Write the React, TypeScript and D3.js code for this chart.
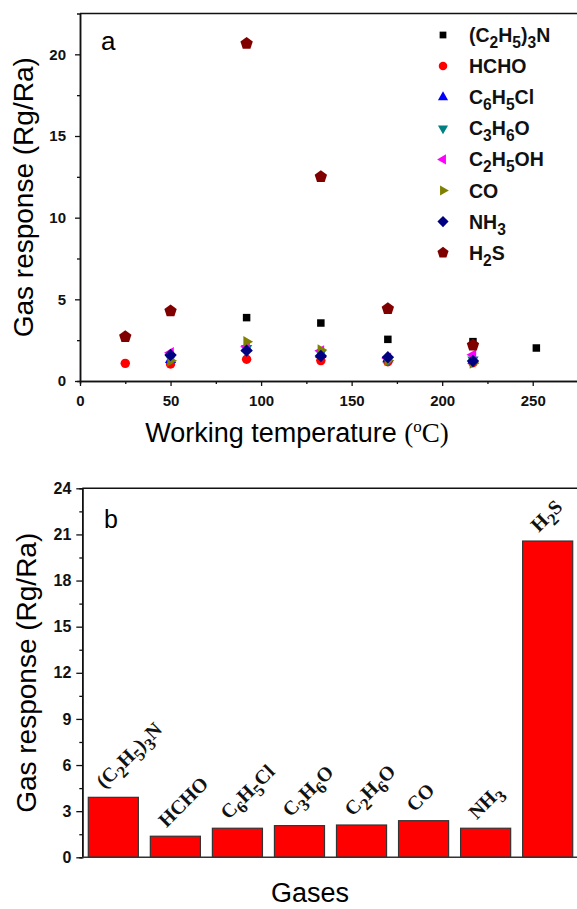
import React from "react";
import * as d3 from "d3";

// panel a: gas response vs working temperature
const temps = [25, 50, 92, 133, 170, 217, 252];
const seriesNames = ["(C2H5)3N", "HCHO", "C6H5Cl", "C3H6O", "C2H5OH", "CO", "NH3", "H2S"];
const teaResp = [null, null, 3.88, 3.55, 2.55, 2.41, 2.02];
const hchoResp = [1.08, 1.04, 1.33, 1.25, 1.18, 1.12, null];
const c6h5clResp = [null, 1.3, 2.0, 1.6, 1.35, 1.25, null];
const c3h6oResp = [null, 1.4, 2.0, 1.7, 1.3, 1.3, null];
const c2h5ohResp = [null, 1.73, 2.1, 1.85, 1.4, 1.6, null];
const coResp = [null, 1.24, 2.41, 1.9, 1.25, 1.1, null];
const nh3Resp = [null, 1.59, 1.86, 1.53, 1.45, 1.22, null];
const h2sResp = [2.71, 4.29, 20.66, 12.51, 4.43, 2.19, null];
const seriesValues = [teaResp, hchoResp, c6h5clResp, c3h6oResp, c2h5ohResp, coResp, nh3Resp, h2sResp];
const seriesColors = ["#000000", "#ff0000", "#0000ff", "#008080", "#ff00ff", "#808000", "#000080", "#800000"];
const seriesShapes = ["square", "circle", "up", "down", "left", "right", "diamond", "pentagon"];

const tempTicks = [0, 50, 100, 150, 200, 250];
const tempMinor = [25, 75, 125, 175, 225, 275];
const respTicksA = [0, 5, 10, 15, 20];
const respMinorA = [2.5, 7.5, 12.5, 17.5];

// panel b: response to each gas
const gases = ["(C2H5)3N", "HCHO", "C6H5Cl", "C3H6O", "C2H6O", "CO", "NH3", "H2S"];
const gasResp = [3.9, 1.37, 1.89, 2.06, 2.1, 2.38, 1.89, 20.57];
const respTicksB = [0, 3, 6, 9, 12, 15, 18, 21, 24];
const respMinorB = [1.5, 4.5, 7.5, 10.5, 13.5, 16.5, 19.5, 22.5];

const SANS = "Arial, 'Liberation Sans', sans-serif";
const SERIF = "'Times New Roman', 'Liberation Serif', serif";

function markerPath(shape: string) {
  const poly = (n: number, r: number, rot: number) =>
    d3.line()(
      d3.range(n).map((i) => {
        const a = rot + (i * 2 * Math.PI) / n;
        return [r * Math.cos(a), r * Math.sin(a)] as [number, number];
      })
    ) + "Z";
  switch (shape) {
    case "square":
      return poly(4, 5.3, Math.PI / 4);
    case "circle":
      return d3.symbol(d3.symbolCircle, 70)();
    case "up":
      return poly(3, 6.5, -Math.PI / 2);
    case "down":
      return poly(3, 6.5, Math.PI / 2);
    case "left":
      return poly(3, 6.5, Math.PI);
    case "right":
      return poly(3, 6.5, 0);
    case "diamond":
      return poly(4, 6.2, -Math.PI / 2);
    default:
      return poly(5, 6.5, -Math.PI / 2);
  }
}

// write a chemical formula, digits as subscripts
function formula(text, label: string, size: number, subScale: number, shift: number) {
  const parts = label.split(/(\d+)/).filter((p) => p.length);
  let down = false;
  parts.forEach((p) => {
    const isSub = /^\d+$/.test(p);
    const t = text.append("tspan").text(p);
    if (isSub) {
      t.attr("font-size", size * subScale).attr("dy", down ? 0 : shift);
      down = true;
    } else {
      t.attr("font-size", size).attr("dy", down ? -shift : 0);
      down = false;
    }
  });
}

const App = () => {
  const ref = React.useRef(null);

  React.useEffect(() => {
    const svg = d3.select(ref.current);
    svg.selectAll("*").remove();

    // ---------- panel a ----------
    const x = d3.scaleLinear().domain([0, 275]).range([80, 578]);
    const y = d3.scaleLinear().domain([0, 22.5]).range([381, 13.5]);

    const ga = svg.append("g");

    ga.append("line")
      .attr("x1", x(0)).attr("x2", x(275))
      .attr("y1", y(22.5)).attr("y2", y(22.5))
      .attr("stroke", "#111").attr("stroke-width", 1.5);

    const styleAxis = (g) => {
      g.attr("font-family", null).attr("font-size", null);
      g.select(".domain").attr("stroke", "#111").attr("stroke-width", 1.5);
      g.selectAll(".tick line").attr("stroke", "#111").attr("stroke-width", 1.3);
      g.selectAll("text")
        .style("font-family", SANS)
        .style("font-weight", "bold")
        .style("font-size", "15px")
        .attr("fill", "#111");
    };

    ga.append("g")
      .attr("transform", `translate(0,${y(0)})`)
      .call(d3.axisBottom(x).tickValues(tempMinor).tickSize(3).tickFormat(() => ""))
      .call(styleAxis);
    ga.append("g")
      .attr("transform", `translate(0,${y(0)})`)
      .call(d3.axisBottom(x).tickValues(tempTicks).tickSize(5).tickPadding(9).tickSizeOuter(0))
      .call(styleAxis);
    ga.append("g")
      .attr("transform", `translate(${x(0)},0)`)
      .call(d3.axisLeft(y).tickValues(respMinorA).tickSize(3).tickFormat(() => ""))
      .call(styleAxis);
    ga.append("g")
      .attr("transform", `translate(${x(0)},0)`)
      .call(d3.axisLeft(y).tickValues(respTicksA).tickSize(5).tickPadding(9).tickSizeOuter(0))
      .call(styleAxis);

    seriesValues.forEach((vals, si) => {
      const pts = temps
        .map((t, i) => [t, vals[i]])
        .filter((d) => d[1] !== null);
      ga.append("g")
        .selectAll("path")
        .data(pts)
        .enter()
        .append("path")
        .attr("d", markerPath(seriesShapes[si]))
        .attr("transform", (d) => `translate(${x(d[0])},${y(d[1])})`)
        .attr("fill", seriesColors[si]);
    });

    // legend
    const lg = ga.append("g");
    seriesNames.forEach((name, i) => {
      const ly = 35 + i * 31.1;
      lg.append("path")
        .attr("d", markerPath(seriesShapes[i]))
        .attr("transform", `translate(443,${ly}) scale(0.9)`)
        .attr("fill", seriesColors[i]);
      const t = lg.append("text")
        .attr("x", 469)
        .attr("y", ly + 7)
        .attr("font-family", SANS)
        .attr("font-weight", "bold")
        .attr("fill", "#111");
      formula(t, name, 19.5, 0.8, 6);
    });

    ga.append("text")
      .attr("x", 101).attr("y", 50)
      .attr("font-family", SANS).attr("font-size", 26)
      .text("a");

    ga.append("text")
      .attr("transform", `translate(33,${(y(0) + y(22.5)) / 2}) rotate(-90)`)
      .attr("text-anchor", "middle")
      .attr("font-family", SANS).attr("font-size", 28)
      .text("Gas response (Rg/Ra)");

    const xl = ga.append("text")
      .attr("x", 297).attr("y", 442)
      .attr("text-anchor", "middle")
      .attr("font-family", SANS).attr("font-size", 27);
    xl.append("tspan").text("Working temperature ");
    xl.append("tspan").attr("font-family", SERIF).text("(");
    xl.append("tspan").attr("font-family", SERIF).attr("font-size", 17).attr("dy", -10).text("o");
    xl.append("tspan").attr("font-family", SERIF).attr("dy", 10).text("C)");

    // ---------- panel b ----------
    const xb = d3.scaleBand().domain(gases).range([82.3, 578.7]).paddingInner(0.193).paddingOuter(0.0965);
    const yb = d3.scaleLinear().domain([0, 24]).range([857.3, 488.3]);

    const gb = svg.append("g");

    gb.append("line")
      .attr("x1", 82.3).attr("x2", 578.7)
      .attr("y1", yb(24)).attr("y2", yb(24))
      .attr("stroke", "#111").attr("stroke-width", 1.5);

    gb.selectAll("rect")
      .data(gases)
      .enter()
      .append("rect")
      .attr("x", (d) => xb(d))
      .attr("width", xb.bandwidth())
      .attr("y", (d, i) => yb(gasResp[i]))
      .attr("height", (d, i) => yb(0) - yb(gasResp[i]))
      .attr("fill", "#ff0000")
      .attr("stroke", "#333")
      .attr("stroke-width", 1.2);

    gb.append("g")
      .attr("transform", `translate(${82.3},0)`)
      .call(d3.axisLeft(yb).tickValues(respMinorB).tickSize(3).tickFormat(() => ""))
      .call(styleAxis);
    gb.append("g")
      .attr("transform", `translate(${82.3},0)`)
      .call(d3.axisLeft(yb).tickValues(respTicksB).tickSize(6).tickPadding(5).tickSizeOuter(0))
      .call(styleAxis)
      .call((g) => g.selectAll("text").style("font-size", "16px"));
    gb.append("line")
      .attr("x1", 82.3).attr("x2", 578.7)
      .attr("y1", yb(0)).attr("y2", yb(0))
      .attr("stroke", "#333").attr("stroke-width", 1.5);

    // rotated gas labels above each bar
    gases.forEach((g, i) => {
      const cx = xb(g) + xb.bandwidth() / 2 - 9;
      const cy = yb(gasResp[i]) - 8;
      const t = gb.append("text")
        .attr("transform", `translate(${cx},${cy}) rotate(-45)`)
        .attr("font-family", SERIF)
        .attr("font-weight", "bold")
        .attr("fill", "#111");
      formula(t, g, 20, 0.85, 6);
    });

    gb.append("text")
      .attr("x", 104).attr("y", 528)
      .attr("font-family", SANS).attr("font-size", 25)
      .text("b");

    gb.append("text")
      .attr("transform", `translate(36,${(yb(0) + yb(24)) / 2}) rotate(-90)`)
      .attr("text-anchor", "middle")
      .attr("font-family", SANS).attr("font-size", 28)
      .text("Gas response (Rg/Ra)");

    gb.append("text")
      .attr("x", 310).attr("y", 902)
      .attr("text-anchor", "middle")
      .attr("font-family", SANS).attr("font-size", 27)
      .text("Gases");
  }, []);

  return (
    <svg
      ref={ref}
      width={577}
      height={909}
      style={{ position: "absolute", left: 0, top: 0, background: "#fff" }}
    />
  );
};

export default App;
